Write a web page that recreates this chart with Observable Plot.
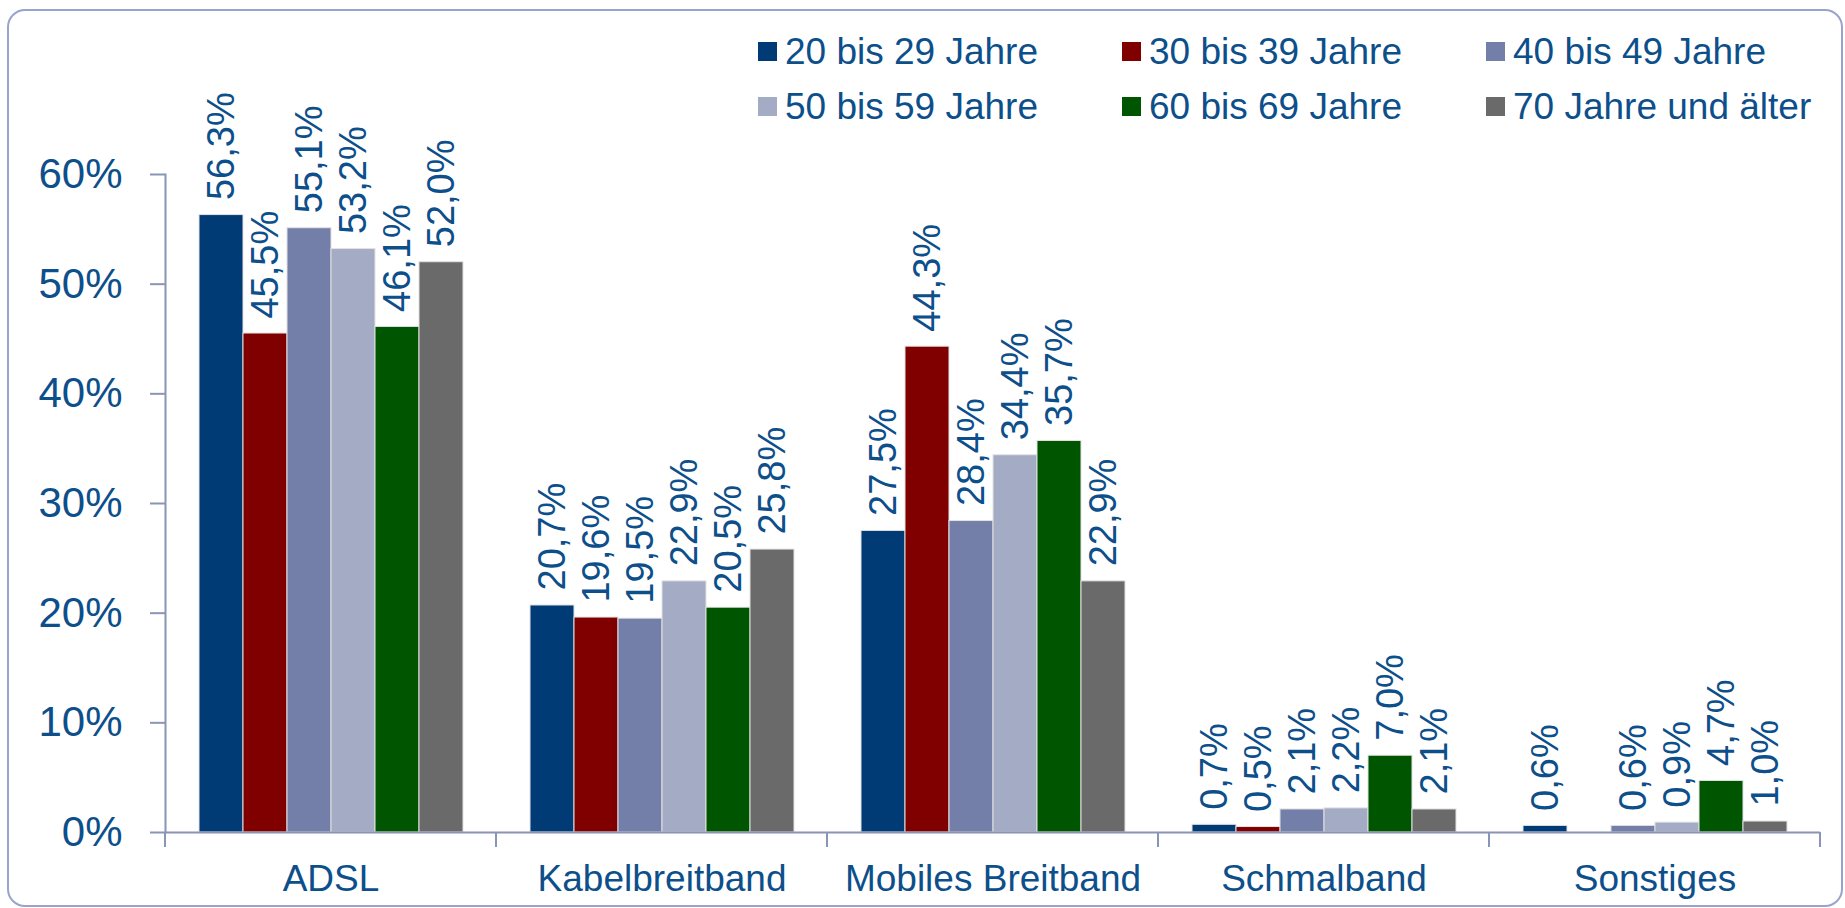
<!DOCTYPE html>
<html>
<head>
<meta charset="utf-8">
<script src="https://cdn.jsdelivr.net/npm/d3@7"></script>
<script src="https://cdn.jsdelivr.net/npm/@observablehq/plot@0.6"></script>
<style>
  html, body { margin: 0; padding: 0; background: #ffffff; }
  body { width: 1845px; height: 908px; position: relative; overflow: hidden; font-family: Arial, "Liberation Sans", sans-serif; }
  #border { position: absolute; left: 7px; top: 9px; width: 1832px; height: 894px; border: 2px solid #9aa3cc; border-radius: 18px; }
  #chart { position: absolute; left: 0; top: 0; }
  #legend { position: absolute; left: 0; top: 0; }
  .item { position: absolute; display: flex; align-items: center; gap: 8px; font-size: 37px; line-height: 37px; color: #0d4f8b; white-space: nowrap; }
  .sw { width: 19px; height: 19px; display: inline-block; }
</style>
</head>
<body>
<div id="border"></div>
<div id="chart"></div>
<div id="legend"></div>
<script>
// ---- data ----
const categories = ["ADSL", "Kabelbreitband", "Mobiles Breitband", "Schmalband", "Sonstiges"];
const ageGroups = ["20 bis 29 Jahre", "30 bis 39 Jahre", "40 bis 49 Jahre", "50 bis 59 Jahre", "60 bis 69 Jahre", "70 Jahre und älter"];
const v20_29 = [56.3, 20.7, 27.5, 0.7, 0.6];
const v30_39 = [45.5, 19.6, 44.3, 0.5, null];
const v40_49 = [55.1, 19.5, 28.4, 2.1, 0.6];
const v50_59 = [53.2, 22.9, 34.4, 2.2, 0.9];
const v60_69 = [46.1, 20.5, 35.7, 7.0, 4.7];
const v70plus = [52.0, 25.8, 22.9, 2.1, 1.0];
const yTicks = [0, 10, 20, 30, 40, 50, 60];
const colors = ["#003b76", "#800000", "#737fa8", "#a4abc4", "#005500", "#6a6a6a"];

const series = [v20_29, v30_39, v40_49, v50_59, v60_69, v70plus];
const rows = [];
ageGroups.forEach((age, i) => {
  categories.forEach((cat, j) => {
    const v = series[i][j];
    if (v != null) rows.push({cat, age, value: v});
  });
});

const textBlue = "#0d4f8b";
const axisColor = "#8a94b6";
const fmt = v => v.toFixed(1).replace(".", ",") + "%";

function boundaryTicks(index, scales, values, dimensions) {
  const r = scales.x && scales.x.range ? scales.x.range() : [dimensions.marginLeft, dimensions.width - dimensions.marginRight];
  const y0 = scales.y(0);
  const g = d3.create("svg:g").attr("stroke", axisColor).attr("stroke-width", 2);
  for (const xv of r) {
    g.append("line").attr("x1", xv).attr("x2", xv).attr("y1", y0).attr("y2", y0 + 15);
  }
  return g.node();
}

const chart = Plot.plot({
  width: 1845,
  height: 908,
  marginLeft: 163,
  marginRight: 23,
  marginTop: 174,
  marginBottom: 76,
  style: {fontFamily: "Arial, 'Liberation Sans', sans-serif", background: "transparent", overflow: "visible"},
  fx: {domain: categories, padding: 0},
  x: {domain: ageGroups, paddingInner: 0, paddingOuter: 0.755, axis: null},
  y: {domain: [0, 60]},
  color: {domain: ageGroups, range: colors},
  marks: [
    Plot.barY(rows, {fx: "cat", x: "age", y: "value", fill: "age", stroke: "#e2e2e2", strokeWidth: 1}),
    Plot.text(rows, {fx: "cat", x: "age", y: "value", text: d => fmt(d.value), rotate: -90, textAnchor: "start", dy: -15, fontSize: 38, fill: textBlue}),
    Plot.ruleY([0], {stroke: axisColor, strokeWidth: 2}),
    Plot.frame({anchor: "left", stroke: axisColor, strokeWidth: 2, facetAnchor: "left"}),
    boundaryTicks,
    Plot.axisY({ticks: yTicks, tickFormat: d => d + "%", tickSize: 15, tickPadding: 28, fontSize: 42, stroke: axisColor, strokeWidth: 2, fill: textBlue, label: null}),
    Plot.axisFx({anchor: "bottom", tickSize: 0, tickPadding: 32, fontSize: 37, fill: textBlue, label: null})
  ]
});
document.getElementById("chart").appendChild(chart);

// legend (3 columns x 2 rows)
const legend = document.getElementById("legend");
ageGroups.forEach((age, i) => {
  const col = i % 3, row = Math.floor(i / 3);
  const item = document.createElement("div");
  item.className = "item";
  item.style.left = (758 + col * 364) + "px";
  item.style.top = (33 + row * 55) + "px";
  const sw = document.createElement("span");
  sw.className = "sw";
  sw.style.background = colors[i];
  const t = document.createElement("span");
  t.textContent = age;
  item.appendChild(sw);
  item.appendChild(t);
  legend.appendChild(item);
});
</script>
</body>
</html>
